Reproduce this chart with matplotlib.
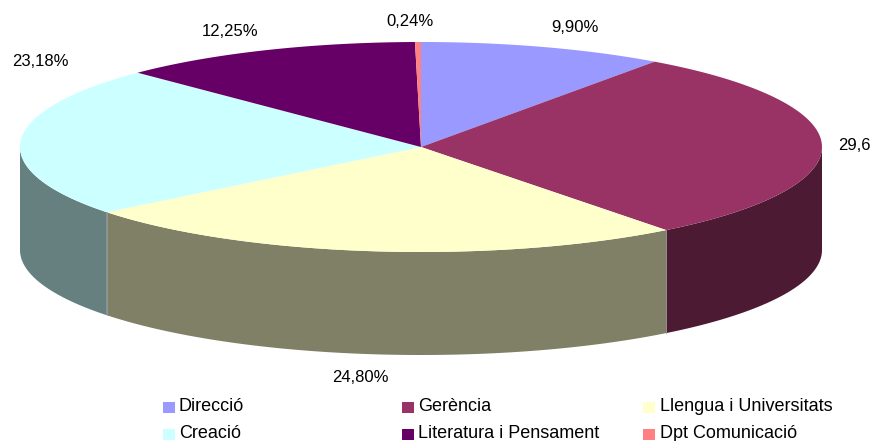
import numpy as np
import matplotlib.pyplot as plt
from matplotlib.patches import Polygon, Rectangle

# dades
categories = ['Direcció', 'Gerència', 'Llengua i Universitats',
              'Creació', 'Literatura i Pensament', 'Dpt Comunicació']
values = [9.90, 29.63, 24.80, 23.18, 12.25, 0.24]
labels = ['9,90%', '29,6', '24,80%', '23,18%', '12,25%', '0,24%']
colors = ['#9999FF', '#993366', '#FFFFCC', '#CCFFFF', '#660066', '#FF8080']

# geometria del pastís (pixels)
cx, cy = 421, 147
a, b = 401, 105
depth = 103

label_pos = [(575, 28), (838, 145), (360, 378), (40, 62), (230, 31), (410, 22)]
label_ha = ['center', 'left', 'center', 'center', 'center', 'center']

plt.rcParams['font.family'] = ['Liberation Sans', 'DejaVu Sans']

fig = plt.figure(figsize=(8.74, 4.41), dpi=100)
ax = fig.add_axes([0, 0, 1, 1])
ax.set_xlim(0, 874)
ax.set_ylim(441, 0)
ax.axis('off')


def darker(c, f=0.5):
    c = c.lstrip('#')
    r, g, bb = [int(c[i:i + 2], 16) * f for i in (0, 2, 4)]
    return (r / 255, g / 255, bb / 255)


def pt(t, dy=0):
    return cx + a * np.cos(t), cy - b * np.sin(t) + dy


fracs = np.array(values) / sum(values)
bounds = np.pi / 2 - 2 * np.pi * np.concatenate([[0], np.cumsum(fracs)])

# parets laterals (només la meitat de davant, angles entre -pi i 0)
for i in range(len(values)):
    t1, t0 = bounds[i], bounds[i + 1]
    for shift in (0, -2 * np.pi, 2 * np.pi):
        lo = max(t0 + shift, -np.pi)
        hi = min(t1 + shift, 0)
        if hi > lo:
            ts = np.linspace(lo, hi, 80)
            top = [pt(t) for t in ts]
            bot = [pt(t, depth) for t in ts[::-1]]
            ax.add_patch(Polygon(top + bot, closed=True, facecolor=darker(colors[i]),
                                 edgecolor='none'))
# línies de separació a la paret
for t in bounds:
    tt = (t + np.pi) % (2 * np.pi) - np.pi
    if -np.pi < tt < 0:
        x0, y0 = pt(tt)
        ax.plot([x0, x0], [y0, y0 + depth], color='#999999', lw=0.6)

# cara superior
for i in range(len(values)):
    ts = np.linspace(bounds[i], bounds[i + 1], 120)
    poly = [(cx, cy)] + [pt(t) for t in ts]
    ax.add_patch(Polygon(poly, closed=True, facecolor=colors[i], edgecolor='none'))

for txt, (x, y), ha in zip(labels, label_pos, label_ha):
    ax.text(x, y, txt, fontsize=12, ha=ha, va='center', color='black')

# llegenda
leg_x = [163, 402, 643]
leg_tx = [179, 418, 660]
leg_y = [411, 438]
for i, name in enumerate(categories):
    col, row = i % 3, i // 3
    y = leg_y[row]
    ax.add_patch(Rectangle((leg_x[col], y - 9), 12, 11, facecolor=colors[i], edgecolor='none'))
    ax.text(leg_tx[col], y, name, fontsize=13, ha='left', va='baseline', color='black')

fig.savefig('out.png', dpi=100)
